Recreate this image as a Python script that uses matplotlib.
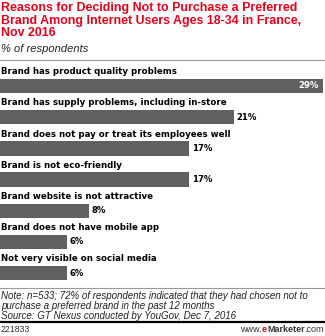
import matplotlib
matplotlib.use("Agg")
import matplotlib.pyplot as plt
from matplotlib.lines import Line2D
from matplotlib.offsetbox import TextArea, HPacker, AnchoredOffsetbox

categories = [
    "Brand has product quality problems",
    "Brand has supply problems, including in-store",
    "Brand does not pay or treat its employees well",
    "Brand is not eco-friendly",
    "Brand website is not attractive",
    "Brand does not have mobile app",
    "Not very visible on social media",
]
values = [29, 21, 17, 17, 8, 6, 6]
value_labels = ["29%", "21%", "17%", "17%", "8%", "6%", "6%"]

title = ("Reasons for Deciding Not to Purchase a Preferred\n"
         "Brand Among Internet Users Ages 18-34 in France,\n"
         "Nov 2016")
subtitle = "% of respondents"
note = ("Note: n=533; 72% of respondents indicated that they had chosen not to\n"
        "purchase a preferred brand in the past 12 months\n"
        "Source: GT Nexus conducted by YouGov, Dec 7, 2016")
chart_id = "221833"

W, H = 325, 336
fig = plt.figure(figsize=(W / 100, H / 100), dpi=100)

def fy(py):
    return 1 - py / H

top_px, bot_px = 62, 287
first_c, step = 86, 31.2
ax = fig.add_axes([0, fy(bot_px), 323 / W, (bot_px - top_px) / H])
ax.set_xlim(0, 29)
ax.set_ylim((bot_px - first_c) / step, (top_px - first_c) / step)
ax.axis("off")

bar_color = "#606060"
y = list(range(len(values)))
ax.barh(y, values, height=14.5 / step, color=bar_color, left=0)
for i, (cat, v, lab) in enumerate(zip(categories, values, value_labels)):
    ax.text(0.003, i - 14.3 / step, cat, transform=ax.get_yaxis_transform(),
            ha="left", va="center", fontsize=6.25, fontweight="bold",
            family="DejaVu Sans", color="#000000")
    if i == 0:
        ax.annotate(lab, (v, i), xytext=(-3, 0), textcoords="offset points",
                    ha="right", va="center", fontsize=6.1, fontweight="bold",
                    color="white", family="DejaVu Sans")
    else:
        ax.annotate(lab, (v, i), xytext=(2, 0), textcoords="offset points",
                    ha="left", va="center", fontsize=6.1, fontweight="bold",
                    color="#000000", family="DejaVu Sans")

fig.text(0.003, fy(2), title, ha="left", va="top", fontsize=8.9,
         fontweight="bold", color="#e4001b", family="Liberation Sans",
         linespacing=1.08)
fig.text(0.003, fy(49), subtitle, ha="left", va="center", fontsize=8.0,
         style="italic", color="#222222", family="Liberation Sans")

fig.add_artist(Line2D([0, 1], [fy(60), fy(60)], color="#999999", lw=0.8))
fig.add_artist(Line2D([0, 1], [fy(288), fy(288)], color="#999999", lw=0.8))

fig.text(0.003, fy(291), note, ha="left", va="top", fontsize=7.0,
         style="italic", color="#222222", family="Liberation Sans",
         linespacing=0.98)

fig.add_artist(Line2D([0, 1], [fy(322), fy(322)], color="#000000", lw=1.6))

fig.text(0.003, fy(330), chart_id, ha="left", va="center", fontsize=6.3,
         color="#333333", family="Liberation Sans")

parts = [("www.", "#333333", "normal"), ("e", "#e4001b", "bold"),
         ("Marketer", "#333333", "bold"), (".com", "#333333", "normal")]
boxes = [TextArea(s, textprops=dict(color=c, fontweight=w, fontsize=6.5,
                                    family="Liberation Sans"))
         for s, c, w in parts]
pack = HPacker(children=boxes, align="baseline", pad=0, sep=0)
ab = AnchoredOffsetbox(loc="center right", child=pack, pad=0, frameon=False,
                       bbox_to_anchor=(0.997, fy(330)),
                       bbox_transform=fig.transFigure, borderpad=0)
fig.add_artist(ab)

fig.savefig("out.png", dpi=100, facecolor="white")
